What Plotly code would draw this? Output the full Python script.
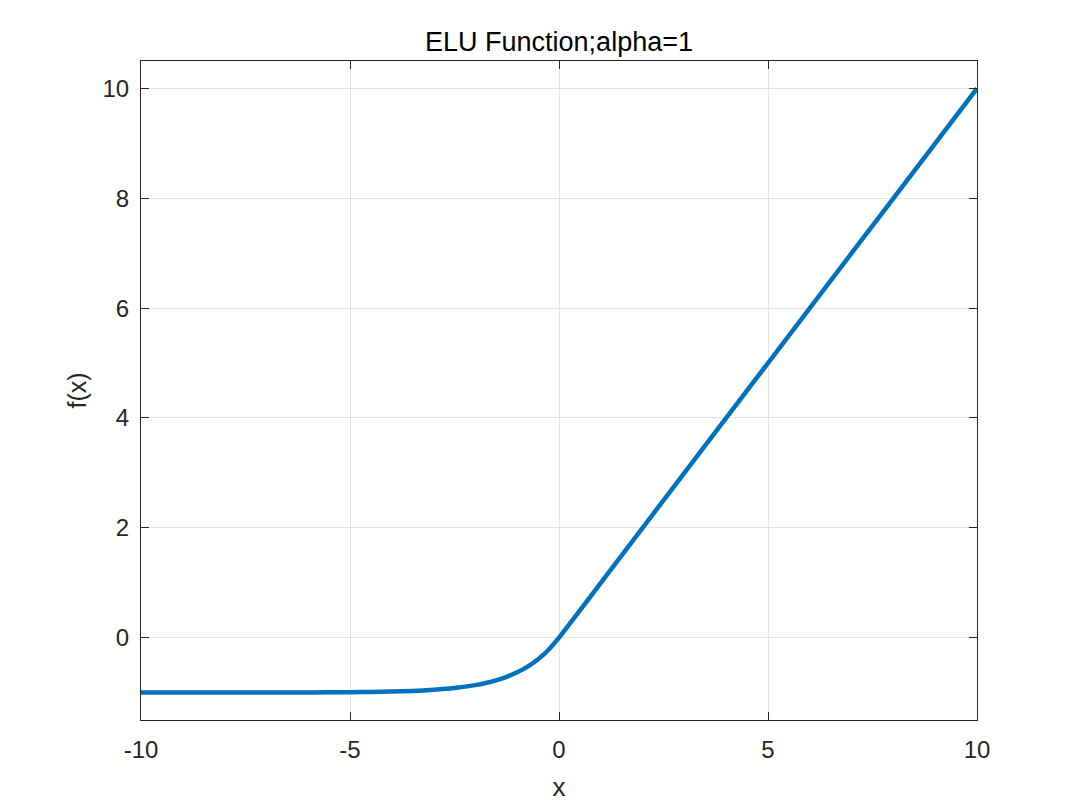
import plotly.graph_objects as go

# Values
x_vals = [-10, -9, -8, -7, -6, -5, -4.5, -4, -3.5, -3, -2.5, -2, -1.75, -1.5, -1.25, -1, -0.75, -0.5, -0.25, 0, 2, 4, 6, 8, 10]
y_vals = [-1.0, -1.0, -1.0, -1.0, -0.998, -0.993, -0.989, -0.982, -0.97, -0.95, -0.918, -0.865, -0.826, -0.777, -0.713, -0.632, -0.528, -0.393, -0.221, 0, 2, 4, 6, 8, 10]

x_ticks = [-10, -5, 0, 5, 10]
y_ticks = [0, 2, 4, 6, 8, 10]

FONT = "Liberation Sans, Arial, sans-serif"

fig = go.Figure()
fig.add_trace(go.Scatter(
    x=x_vals, y=y_vals, mode="lines",
    line=dict(color="#0072BD", width=4.5, shape="spline", smoothing=0.6),
    showlegend=False, hoverinfo="skip",
))

axis_common = dict(
    showline=True, linecolor="#262626", linewidth=1, mirror="ticks",
    ticks="inside", ticklen=8, tickcolor="#262626",
    showgrid=True, gridcolor="#e3e3e3", gridwidth=1,
    zeroline=False,
    tickfont=dict(family=FONT, size=24, color="#262626"),
)

fig.update_layout(
    width=1072, height=802,
    paper_bgcolor="white", plot_bgcolor="white",
    margin=dict(l=133, r=103, t=53, b=90),
    title=dict(text="ELU Function;alpha=1", x=0.5, xref="paper", xanchor="center",
               y=1, yref="paper", yanchor="bottom", pad=dict(b=10),
               font=dict(family=FONT, size=27, color="#000000")),
    xaxis=dict(range=[-10, 10], tickvals=x_ticks, ticktext=[str(v) for v in x_ticks],
               ticklabelstandoff=8,
               title=dict(text="x", standoff=16,
                          font=dict(family=FONT, size=26, color="#262626")),
               **axis_common),
    yaxis=dict(range=[-1.5, 10.5], tickvals=y_ticks, ticktext=[str(v) for v in y_ticks],
               ticklabelstandoff=6,
               title=dict(text="f(x)", standoff=8,
                          font=dict(family=FONT, size=25, color="#262626")),
               **axis_common),
)

fig.write_html("out.html")
